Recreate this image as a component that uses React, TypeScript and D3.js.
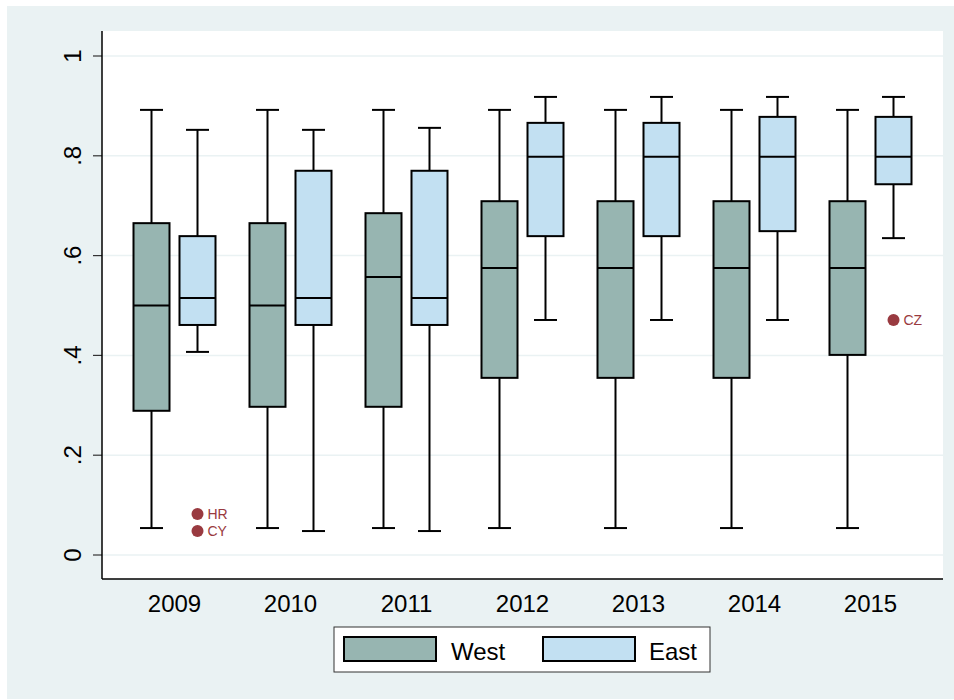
import React from "react";
import * as d3 from "d3";

const years = ["2009", "2010", "2011", "2012", "2013", "2014", "2015"];
const groups = ["West", "East"];
// [lowWhisker, q1, median, q3, highWhisker]
const westStats = [
  [0.054, 0.289, 0.5, 0.665, 0.892],
  [0.054, 0.297, 0.5, 0.665, 0.892],
  [0.054, 0.297, 0.557, 0.685, 0.892],
  [0.054, 0.355, 0.575, 0.709, 0.892],
  [0.054, 0.355, 0.575, 0.709, 0.892],
  [0.054, 0.355, 0.575, 0.709, 0.892],
  [0.054, 0.401, 0.575, 0.709, 0.892],
];
const eastStats = [
  [0.407, 0.461, 0.515, 0.639, 0.852],
  [0.048, 0.461, 0.515, 0.77, 0.852],
  [0.048, 0.461, 0.515, 0.77, 0.856],
  [0.471, 0.639, 0.798, 0.866, 0.918],
  [0.471, 0.639, 0.798, 0.866, 0.918],
  [0.471, 0.649, 0.798, 0.878, 0.918],
  [0.635, 0.743, 0.798, 0.878, 0.918],
];
const outliers = [
  { year: "2009", group: "East", value: 0.082, label: "HR" },
  { year: "2009", group: "East", value: 0.048, label: "CY" },
  { year: "2015", group: "East", value: 0.471, label: "CZ" },
];
const yTicks = [0, 0.2, 0.4, 0.6, 0.8, 1];
const yTickLabels = ["0", ".2", ".4", ".6", ".8", "1"];
const colors = ["#97B5B1", "#C2E0F2"];

const W = 954;
const H = 700;
const plot = { left: 102, right: 943, top: 31, bottom: 579 };
const font = "'Liberation Sans', Arial, sans-serif";

export default function App() {
  const x = d3.scalePoint<string>().domain(years).range([plot.left, plot.right]).padding(0.625);
  const y = d3.scaleLinear().domain([0, 1]).range([555, 56]);
  const offset = d3.scalePoint<string>().domain(groups).range([-23, 23]);
  const boxW = 36;
  const capW = 23;
  const data = [westStats, eastStats];

  return (
    <svg width={W} height={H} style={{ position: "absolute", left: 0, top: 0 }} fontFamily={font}>
      <rect x={0} y={0} width={W} height={H} fill="#ffffff" />
      <rect x={7} y={6} width={W - 7} height={693} fill="#EAF2F3" />
      <rect x={plot.left} y={plot.top} width={plot.right - plot.left} height={plot.bottom - plot.top} fill="#ffffff" />
      {yTicks.map((t, i) => (
        <g key={t}>
          <line x1={plot.left} x2={plot.right} y1={y(t)} y2={y(t)} stroke="#EAF2F3" strokeWidth={1.5} />
          <line x1={93} x2={plot.left} y1={y(t)} y2={y(t)} stroke="#333" strokeWidth={1.2} />
          <text transform={`translate(81,${y(t)}) rotate(-90)`} textAnchor="middle" fontSize={24} fill="#000">
            {yTickLabels[i]}
          </text>
        </g>
      ))}
      {years.map((yr, i) => (
        <g key={yr}>
          {groups.map((g, gi) => {
            const [lo, q1, med, q3, hi] = data[gi][i];
            const cx = (x(yr) as number) + (offset(g) as number);
            return (
              <g key={g}>
                <line x1={cx} x2={cx} y1={y(hi)} y2={y(q3)} stroke="#000" strokeWidth={2} />
                <line x1={cx} x2={cx} y1={y(q1)} y2={y(lo)} stroke="#000" strokeWidth={2} />
                <line x1={cx - capW / 2} x2={cx + capW / 2} y1={y(hi)} y2={y(hi)} stroke="#000" strokeWidth={2} />
                <line x1={cx - capW / 2} x2={cx + capW / 2} y1={y(lo)} y2={y(lo)} stroke="#000" strokeWidth={2} />
                <rect x={cx - boxW / 2} y={y(q3)} width={boxW} height={y(q1) - y(q3)} fill={colors[gi]} stroke="#000" strokeWidth={2} />
                <line x1={cx - boxW / 2} x2={cx + boxW / 2} y1={y(med)} y2={y(med)} stroke="#000" strokeWidth={2} />
              </g>
            );
          })}
          <text x={x(yr)} y={612} textAnchor="middle" fontSize={24} fill="#000">
            {yr}
          </text>
        </g>
      ))}
      {outliers.map((o) => {
        const cx = (x(o.year) as number) + (offset(o.group) as number);
        return (
          <g key={o.label}>
            <circle cx={cx} cy={y(o.value)} r={6} fill="#993A40" />
            <text x={cx + 10} y={y(o.value) + 5} fontSize={14} fill="#993A40">
              {o.label}
            </text>
          </g>
        );
      })}
      <line x1={plot.left} x2={plot.left} y1={plot.top} y2={plot.bottom} stroke="#000" strokeWidth={1.5} />
      <line x1={plot.left} x2={plot.right} y1={plot.bottom} y2={plot.bottom} stroke="#000" strokeWidth={1.5} />
      <rect x={334} y={627} width={376} height={45} fill="#fff" stroke="#333" strokeWidth={1} />
      {groups.map((g, gi) => (
        <g key={g}>
          <rect x={344 + gi * 199} y={637} width={92} height={24} fill={colors[gi]} stroke="#000" strokeWidth={2} />
          <text x={451 + gi * 198} y={660} fontSize={24} fill="#000">
            {g}
          </text>
        </g>
      ))}
    </svg>
  );
}
